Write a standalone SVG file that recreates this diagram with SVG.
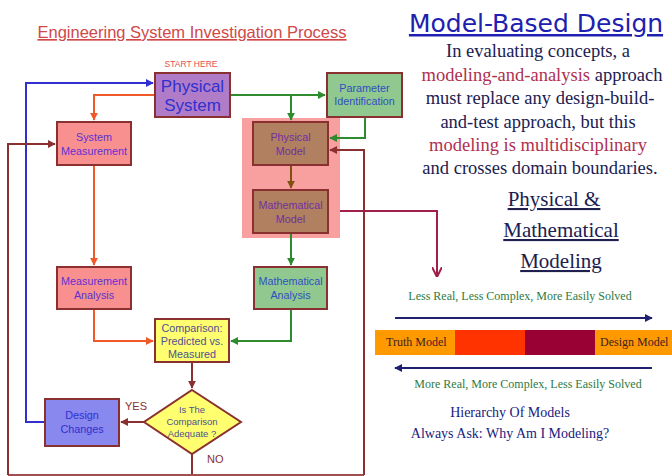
<svg xmlns="http://www.w3.org/2000/svg" width="672" height="476" viewBox="0 0 672 476">
<defs>
<style>
.box{stroke:#8a3030;stroke-width:2}
.t{font-family:"Liberation Sans",Arial,sans-serif;font-size:10.8px;text-anchor:middle}
.big{font-size:17px}
.sm{font-size:9.5px}
.s{font-family:"Liberation Serif","Times New Roman",serif;text-anchor:middle}
.c{fill:none;stroke-width:2}
</style>
<marker id="aB" viewBox="0 0 10 10" refX="9" refY="5" markerWidth="4" markerHeight="4" orient="auto"><path d="M0,0L10,5L0,10z" fill="#3030d0"/></marker>
<marker id="aO" viewBox="0 0 10 10" refX="9" refY="5" markerWidth="4" markerHeight="4" orient="auto"><path d="M0,0L10,5L0,10z" fill="#f05a28"/></marker>
<marker id="aG" viewBox="0 0 10 10" refX="9" refY="5" markerWidth="4" markerHeight="4" orient="auto"><path d="M0,0L10,5L0,10z" fill="#2e8b2e"/></marker>
<marker id="aR" viewBox="0 0 10 10" refX="9" refY="5" markerWidth="4" markerHeight="4" orient="auto"><path d="M0,0L10,5L0,10z" fill="#8a3030"/></marker>
<marker id="aBr" viewBox="0 0 10 10" refX="9" refY="5" markerWidth="4" markerHeight="4" orient="auto"><path d="M0,0L10,5L0,10z" fill="#805010"/></marker>
<marker id="aC" viewBox="0 0 10 10" refX="9" refY="5" markerWidth="5" markerHeight="5" orient="auto"><path d="M0,0L10,5L0,10" fill="none" stroke="#a0204a" stroke-width="2"/></marker>
<marker id="aN" viewBox="0 0 10 10" refX="9" refY="5" markerWidth="4" markerHeight="4" orient="auto"><path d="M0,0L10,5L0,10z" fill="#202070"/></marker>
</defs>
<rect width="672" height="476" fill="#ffffff"/>

<text x="192" y="38" font-family="Liberation Sans,Arial,sans-serif" font-size="16.5" fill="#d04848" text-anchor="middle" text-decoration="underline">Engineering System Investigation Process</text>
<text x="191" y="67" font-family="Liberation Sans,Arial,sans-serif" font-size="8.5" fill="#e05050" text-anchor="middle">START HERE</text>

<rect x="242" y="118" width="98" height="120" fill="#f8a0a0"/>

<g id="connectors">
<path class="c" d="M45,422H26V83H153" stroke="#3030d0" marker-end="url(#aB)"/>
<path class="c" d="M155,95H94V120" stroke="#f05a28" marker-end="url(#aO)"/>
<path class="c" d="M230,95H325" stroke="#2e8b2e" marker-end="url(#aG)"/>
<path class="c" d="M291,95V120" stroke="#2e8b2e" marker-end="url(#aG)"/>
<path class="c" d="M365,117V138H330" stroke="#2e8b2e" marker-end="url(#aG)"/>
<path class="c" d="M291,165V188" stroke="#805010" marker-end="url(#aBr)"/>
<path class="c" d="M291,233V265" stroke="#2e8b2e" marker-end="url(#aG)"/>
<path class="c" d="M94,165V265" stroke="#f05a28" marker-end="url(#aO)"/>
<path class="c" d="M94,309V341H153" stroke="#f05a28" marker-end="url(#aO)"/>
<path class="c" d="M291,309V341H231" stroke="#2e8b2e" marker-end="url(#aG)"/>
<path class="c" d="M192,362V388" stroke="#8a3030" marker-end="url(#aR)"/>
<path class="c" d="M144,422H121" stroke="#8a3030" marker-end="url(#aR)"/>
<path class="c" d="M192,454V475" stroke="#8a3030"/>
<path class="c" d="M8,475H364" stroke="#a05050"/>
<path class="c" d="M8,475V144H55" stroke="#8a3030" marker-end="url(#aR)"/>
<path class="c" d="M364,475V150H330" stroke="#8a3030" marker-end="url(#aR)"/>
<path class="c" d="M340,211H437V276" stroke="#a0204a" marker-end="url(#aC)"/>
</g>

<g id="physical-system">
<rect class="box" x="155" y="73" width="75" height="44" fill="#b07cc8"/>
<text class="t big" x="192.5" y="92" fill="#3030d0">Physical</text>
<text class="t big" x="192.5" y="111" fill="#3030d0">System</text>
</g>
<g id="parameter-identification">
<rect class="box" x="327" y="73" width="75" height="44" fill="#90c890"/>
<text class="t" x="364.5" y="92" fill="#3050c0">Parameter</text>
<text class="t" x="364.5" y="105" fill="#3050c0">Identification</text>
</g>
<g id="system-measurement">
<rect class="box" x="57" y="122" width="74" height="43" fill="#f89090"/>
<text class="t" x="94" y="141" fill="#6030d0">System</text>
<text class="t" x="94" y="155" fill="#6030d0">Measurement</text>
</g>
<g id="physical-model">
<rect class="box" x="253" y="122" width="75" height="43" fill="#b08060"/>
<text class="t" x="290.5" y="141" fill="#7030a0">Physical</text>
<text class="t" x="290.5" y="155" fill="#7030a0">Model</text>
</g>
<g id="mathematical-model">
<rect class="box" x="253" y="190" width="75" height="43" fill="#b08060"/>
<text class="t" x="290.5" y="209" fill="#7030a0">Mathematical</text>
<text class="t" x="290.5" y="223" fill="#7030a0">Model</text>
</g>
<g id="measurement-analysis">
<rect class="box" x="57" y="267" width="74" height="42" fill="#f89090"/>
<text class="t" x="94" y="285" fill="#6030d0">Measurement</text>
<text class="t" x="94" y="299" fill="#6030d0">Analysis</text>
</g>
<g id="mathematical-analysis">
<rect class="box" x="254" y="267" width="73" height="42" fill="#90c890"/>
<text class="t" x="290.5" y="285" fill="#3050c0">Mathematical</text>
<text class="t" x="290.5" y="299" fill="#3050c0">Analysis</text>
</g>
<g id="comparison">
<rect class="box" x="155" y="319" width="74" height="43" fill="#ffff70"/>
<text class="t" x="192" y="332" fill="#505090">Comparison:</text>
<text class="t" x="192" y="345" fill="#505090">Predicted vs.</text>
<text class="t" x="192" y="358" fill="#505090">Measured</text>
</g>
<g id="decision">
<polygon class="box" points="192,390 241,422 192,454 144,422" fill="#ffff70" stroke="#8a6a20"/>
<text class="t sm" x="192" y="413" fill="#505090">Is The</text>
<text class="t sm" x="192" y="425" fill="#505090">Comparison</text>
<text class="t sm" x="192" y="437" fill="#505090">Adequate ?</text>
</g>
<g id="design-changes">
<rect class="box" x="45" y="399" width="74" height="47" fill="#8888ee" stroke="#3030d0"/>
<text class="t" x="82" y="419" fill="#3030d0">Design</text>
<text class="t" x="82" y="433" fill="#3030d0">Changes</text>
</g>
<text x="125" y="410" font-family="Liberation Sans,Arial,sans-serif" font-size="11" fill="#8a3030">YES</text>
<text x="207" y="463" font-family="Liberation Sans,Arial,sans-serif" font-size="11" fill="#8a3030">NO</text>

<text x="536" y="32" font-family="DejaVu Sans,Verdana,sans-serif" font-size="25" fill="#2020b0" text-anchor="middle" text-decoration="underline">Model-Based Design</text>
<g font-size="18.5" fill="#202050">
<text class="s" x="538" y="57">In evaluating concepts, a</text>
<text class="s" x="542" y="81"><tspan fill="#b03050">modeling-and-analysis</tspan> approach</text>
<text class="s" x="540" y="104">must replace any design-build-</text>
<text class="s" x="538" y="128">and-test approach, but this</text>
<text class="s" x="538" y="151"><tspan fill="#b03050">modeling is multidisciplinary</tspan></text>
<text class="s" x="540" y="174">and crosses domain boundaries.</text>
</g>
<g font-size="21" fill="#202050">
<text class="s" x="554" y="206" text-decoration="underline">Physical &amp;</text>
<text class="s" x="561" y="237" text-decoration="underline">Mathematical</text>
<text class="s" x="561" y="268" text-decoration="underline">Modeling</text>
</g>
<text class="s" x="520" y="300" font-size="12" fill="#2e7a3e">Less Real, Less Complex, More Easily Solved</text>
<line x1="395" y1="318" x2="652" y2="318" stroke="#202070" stroke-width="2" marker-end="url(#aN)"/>
<rect x="375" y="330" width="80" height="25" fill="#ff9900"/>
<rect x="455" y="330" width="70" height="25" fill="#ff3300"/>
<rect x="525" y="330" width="70" height="25" fill="#990033"/>
<rect x="595" y="330" width="77" height="25" fill="#ff9900"/>
<text x="386" y="346" font-family="Liberation Serif,serif" font-size="12" fill="#402020">Truth Model</text>
<text x="600" y="346" font-family="Liberation Serif,serif" font-size="12" fill="#402020">Design Model</text>
<line x1="652" y1="368" x2="395" y2="368" stroke="#202070" stroke-width="2" marker-end="url(#aN)"/>
<text class="s" x="528" y="388" font-size="12" fill="#2e7a3e">More Real, More Complex, Less Easily Solved</text>
<text class="s" x="510" y="417" font-size="14" fill="#202080">Hierarchy Of Models</text>
<text class="s" x="510" y="438" font-size="14" fill="#202080">Always Ask: Why Am I Modeling?</text>
</svg>
